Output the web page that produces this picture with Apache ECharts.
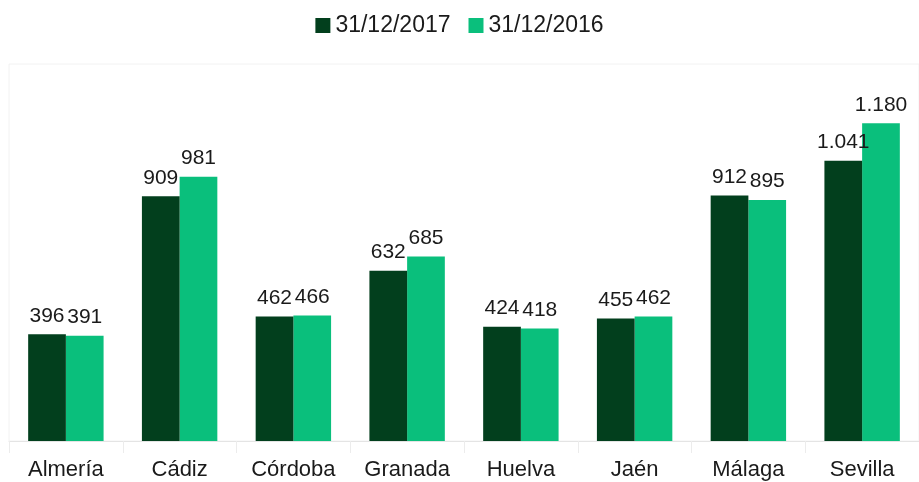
<!DOCTYPE html>
<html>
<head>
<meta charset="utf-8">
<script src="https://cdn.jsdelivr.net/npm/echarts@6/dist/echarts.min.js"></script>
<style>
  html, body { margin: 0; padding: 0; background: #fff; }
  #chart { width: 919px; height: 482px; }
</style>
</head>
<body>
<div id="chart"></div>
<script>
// datos
const provincias = ['Almería', 'Cádiz', 'Córdoba', 'Granada', 'Huelva', 'Jaén', 'Málaga', 'Sevilla'];
const serie2017 = [396, 909, 462, 632, 424, 455, 912, 1041];
const serie2016 = [391, 981, 466, 685, 418, 462, 895, 1180];
const nombres = ['31/12/2017', '31/12/2016'];

// separador de miles a la española
const fmt = v => String(v).replace(/\B(?=(\d{3})+(?!\d))/g, '.');

let myChart = echarts.init(document.getElementById('chart'));

const fuente = 'Liberation Sans, Arial, sans-serif';

const etiqueta = {
  show: true,
  position: 'top',
  distance: 8,
  color: '#1a1a1a',
  fontSize: 21,
  fontFamily: fuente,
  formatter: p => fmt(p.value)
};

let option = {
  animation: false,
  legend: {
    data: nombres,
    top: 9,
    left: 'center',
    itemWidth: 15,
    itemHeight: 15,
    itemGap: 18,
    icon: 'rect',
    textStyle: {
      color: '#1a1a1a',
      fontSize: 23,
      fontFamily: fuente
    }
  },
  grid: {
    show: true,
    borderColor: '#f2f2f2',
    borderWidth: 1,
    left: 9,
    top: 64,
    width: 917,
    bottom: 41,
    containLabel: false
  },
  xAxis: {
    type: 'category',
    data: provincias,
    axisLine: { show: true, lineStyle: { color: '#e4e4e4', width: 1 } },
    axisTick: { show: true, length: 12, lineStyle: { color: '#ececec' } },
    axisLabel: {
      color: '#1a1a1a',
      fontSize: 22,
      margin: 18,
      fontFamily: fuente
    }
  },
  yAxis: {
    type: 'value',
    min: 0,
    max: 1400,
    show: false,
    splitLine: { show: false }
  },
  series: [
    {
      name: nombres[0],
      type: 'bar',
      data: serie2017,
      barGap: '0%',
      barCategoryGap: '33.7%',
      itemStyle: { color: '#023f1d' },
      label: etiqueta,
      z: 3
    },
    {
      name: nombres[1],
      type: 'bar',
      data: serie2016,
      itemStyle: { color: '#0abf7c' },
      label: etiqueta,
      z: 2
    }
  ]
};

myChart.setOption(option);
</script>
</body>
</html>
